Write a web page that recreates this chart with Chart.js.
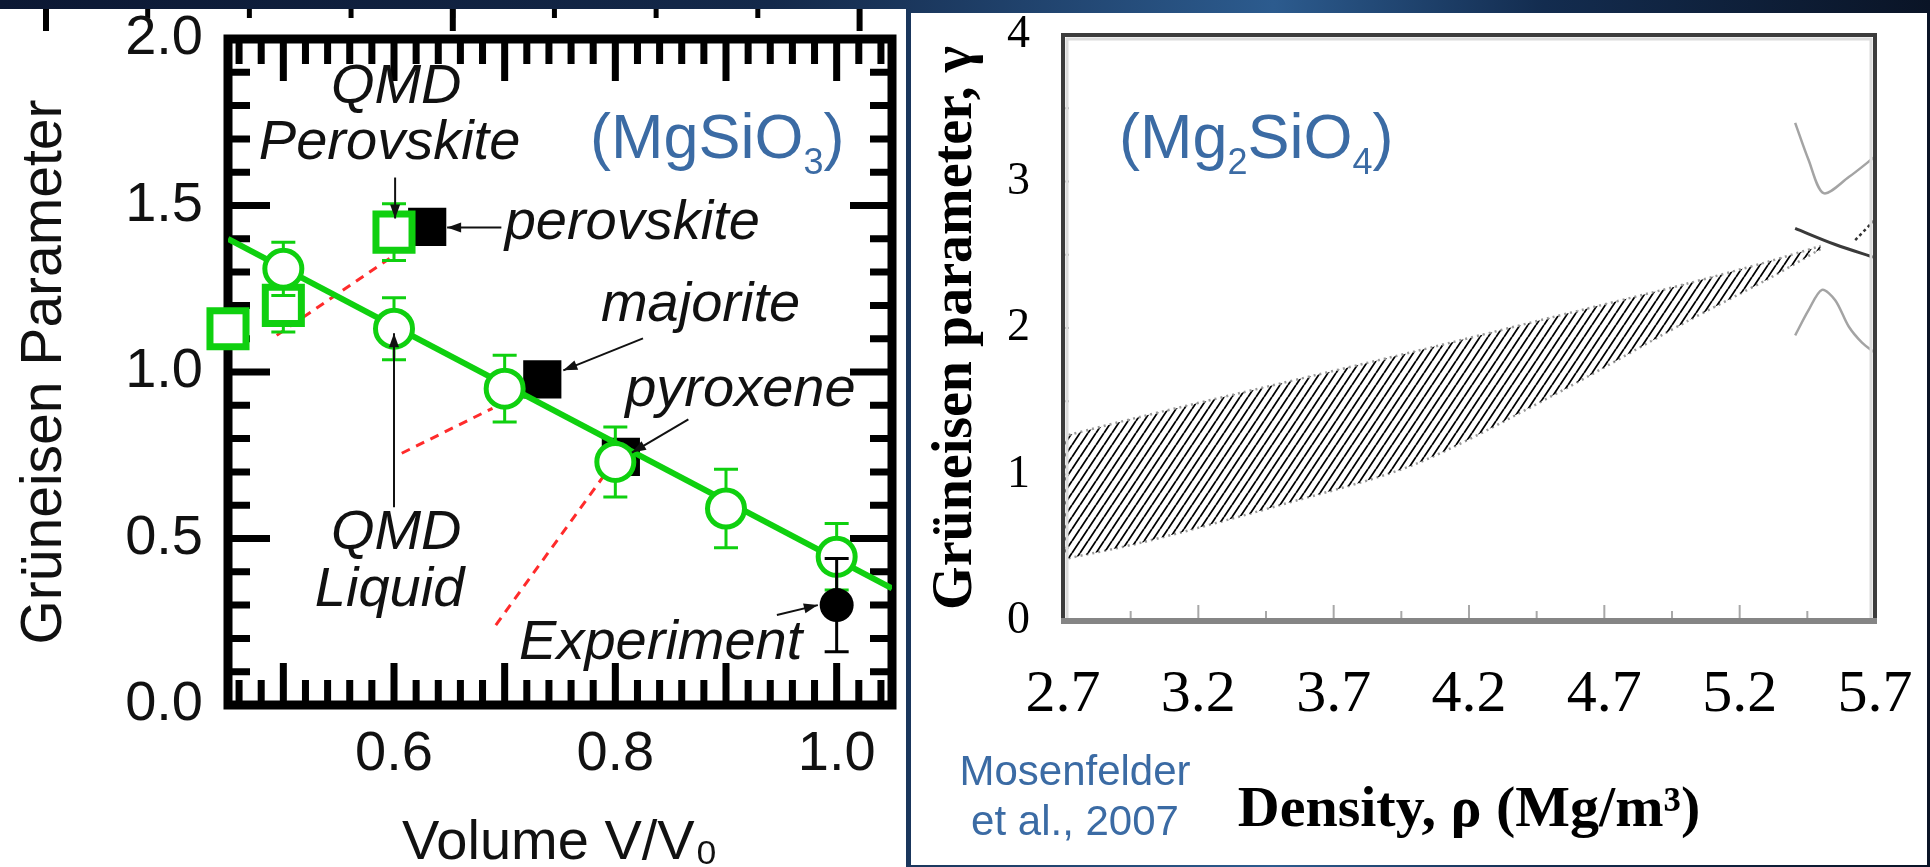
<!DOCTYPE html>
<html>
<head>
<meta charset="utf-8">
<script src="https://cdn.jsdelivr.net/npm/chart.js@4.4.0/dist/chart.umd.min.js"></script>
<style>
html, body { margin: 0; padding: 0; }
body {
  width: 1930px; height: 867px; position: relative; overflow: hidden;
  background: linear-gradient(90deg, #0c1833 0%, #14294a 40%, #2c5b8e 66%, #132c4f 80%, #0a1426 100%);
}
#lp { position: absolute; left: 0; top: 9px; width: 906px; height: 858px; background: #fff; }
#rp { position: absolute; left: 911px; top: 13px; width: 1016px; height: 852px; background: #fff; }
/* leftover tick stubs of the cropped source figure along the top edge */
#stubs, #stubsTall { position: absolute; left: 0; top: 9px; width: 906px; background-repeat: repeat-x; }
#stubs { height: 9px; background-image: linear-gradient(90deg, #000 0 5px, transparent 5px); background-size: 101.7px 100%; background-position: 43.5px 0; }
#stubsTall { height: 22px; background-image: linear-gradient(90deg, #000 0 6px, transparent 6px); background-size: 406.8px 100%; background-position: 43px 0; }
canvas { position: absolute; }
#left { left: 0; top: 0; }
#right { left: 912px; top: 13px; }
.formula {
  position: absolute; color: #3b6ba4; font-family: 'Liberation Sans', Arial, sans-serif;
  font-size: 63px; line-height: 1; white-space: nowrap;
}
.formula sub { font-size: 36px; vertical-align: -16px; line-height: 0; }
#cite {
  position: absolute; left: 950px; top: 746px; width: 250px; text-align: center;
  color: #3b6ba4; font-family: 'Liberation Sans', Arial, sans-serif; font-size: 42px; line-height: 50px;
}
</style>
</head>
<body>
<div id="lp"></div>
<div id="rp"></div>
<div id="stubs"></div>
<div id="stubsTall"></div>
<canvas id="left" width="906" height="867"></canvas>
<canvas id="right" width="1014" height="852"></canvas>
<div class="formula" style="left:590px; top:105px">(MgSiO<sub>3</sub>)</div>
<div class="formula" style="left:1119px; top:105px">(Mg<sub>2</sub>SiO<sub>4</sub>)</div>
<div id="cite">Mosenfelder<br>et al., 2007</div>

<script>
// ---- left panel: MgSiO3, Grüneisen parameter vs V/V0 ----
const volTicks = [0.6, 0.8, 1.0];
const gammaTicks = [0.0, 0.5, 1.0, 1.5, 2.0];

// QMD liquid (open circles)
const liquidV = [0.5, 0.6, 0.7, 0.8, 0.9, 1.0];
const liquidG = [1.31, 1.13, 0.95, 0.73, 0.59, 0.445];
const liquidErr = [0.08, 0.093, 0.10, 0.105, 0.118, 0.10];

// QMD perovskite (open squares)
const pvV = [0.45, 0.5, 0.6];
const pvG = [1.13, 1.20, 1.42];
const pvErr = [0, 0.08, 0.085];

// straight fit through the liquid points
const fitV = [0.45, 1.05];
const fitG = [1.40, 0.35];

// crystalline phases: perovskite, majorite, pyroxene
const phaseV = [0.63, 0.734, 0.805];
const phaseG = [1.436, 0.978, 0.745];

// experiment
const expV = [1.0];
const expG = [0.30];
const expErr = [0.14];

// red dashed connectors
const dashA = [[0.494, 1.11], [0.596, 1.341]];
const dashB = [[0.607, 0.756], [0.689, 0.891]];
const dashC = [[0.692, 0.24], [0.79, 0.69]];

// labels and arrows (data units)
const leftTexts = [
  ['QMD', 0.602, 1.854, 'center'],
  ['Perovskite', 0.596, 1.686, 'center'],
  ['perovskite', 0.70, 1.446, 'left'],
  ['majorite', 0.877, 1.20, 'center'],
  ['pyroxene', 0.913, 0.945, 'center'],
  ['QMD', 0.602, 0.516, 'center'],
  ['Liquid', 0.596, 0.345, 'center'],
  ['Experiment', 0.841, 0.186, 'center']
];
const leftArrows = [
  [0.601, 1.584, 0.601, 1.461],
  [0.697, 1.434, 0.648, 1.434],
  [0.825, 1.101, 0.753, 1.005],
  [0.866, 0.858, 0.815, 0.758],
  [0.600, 0.594, 0.600, 1.116],
  [0.946, 0.270, 0.983, 0.300]
];

// ---- right panel: Mg2SiO4, Grüneisen parameter vs density ----
const densTicks = [2.7, 3.2, 3.7, 4.2, 4.7, 5.2, 5.7];
const gamTicks = [0, 1, 2, 3, 4];
const bandRho = [2.7, 3.0, 3.5, 4.0, 4.5, 5.0, 5.3, 5.5];
const bandUpper = [1.26, 1.40, 1.62, 1.84, 2.07, 2.30, 2.45, 2.56];
const bandLower = [0.42, 0.54, 0.79, 1.07, 1.53, 2.04, 2.33, 2.54];
const curveA = [[5.405, 3.40], [5.454, 3.15], [5.51, 2.92], [5.603, 3.03], [5.70, 3.17]];
const curveB = [[5.405, 2.68], [5.553, 2.57], [5.70, 2.48]];
const curveC = [[5.405, 1.95], [5.454, 2.12], [5.504, 2.26], [5.553, 2.19], [5.603, 2.01], [5.652, 1.90], [5.70, 1.83]];
const curveD = [[5.627, 2.60], [5.70, 2.74]];

const sans = "'Liberation Sans', Arial, Helvetica, sans-serif";
const serif = "'Liberation Serif', 'Times New Roman', serif";
const green = '#0fd00f';

const xy = (xs, ys) => xs.map((v, i) => ({ x: v, y: ys[i] }));
const pts = arr => arr.map(p => ({ x: p[0], y: p[1] }));

// keep the plot area exactly where the layout padding puts it
function fixWidth(w) {
  return s => { s.width = w; s.paddingTop = 0; s.paddingBottom = 0; s.paddingLeft = 0; s.paddingRight = 0; };
}
function fixHeight(h) {
  return s => { s.height = h; s.paddingTop = 0; s.paddingBottom = 0; s.paddingLeft = 0; s.paddingRight = 0; };
}

// error bars, drawn just before their own dataset
const errorBars = {
  id: 'errorBars',
  beforeDatasetDraw(chart, args) {
    const ds = chart.data.datasets[args.index];
    if (!ds.errors) return;
    const { ctx } = chart;
    const y = chart.scales.y;
    const meta = args.meta;
    ctx.save();
    ctx.strokeStyle = ds.errColor;
    ctx.lineWidth = 3;
    ds.data.forEach((d, i) => {
      const e = ds.errors[i];
      if (!e) return;
      const px = meta.data[i].x;
      const top = y.getPixelForValue(d.y + e), bot = y.getPixelForValue(d.y - e);
      ctx.beginPath();
      ctx.moveTo(px, top); ctx.lineTo(px, bot);
      ctx.moveTo(px - 12, top); ctx.lineTo(px + 12, top);
      ctx.moveTo(px - 12, bot); ctx.lineTo(px + 12, bot);
      ctx.stroke();
    });
    ctx.restore();
  }
};

// thick frame with inward ticks on all four sides
const leftFrame = {
  id: 'leftFrame',
  beforeDatasetsDraw(chart) {
    const { ctx, chartArea: a, scales: { x, y } } = chart;
    ctx.save();
    ctx.strokeStyle = '#000';
    ctx.lineWidth = 7;
    ctx.beginPath();
    for (let k = 23; k <= 52; k++) {
      const px = x.getPixelForValue(k / 50);
      const len = (k % 5 === 0) ? 42 : 25;
      ctx.moveTo(px, a.bottom); ctx.lineTo(px, a.bottom - len);
      ctx.moveTo(px, a.top); ctx.lineTo(px, a.top + len);
    }
    for (let k = 1; k < 20; k++) {
      const py = y.getPixelForValue(k / 10);
      const len = (k % 5 === 0) ? 42 : 22;
      ctx.moveTo(a.left, py); ctx.lineTo(a.left + len, py);
      ctx.moveTo(a.right, py); ctx.lineTo(a.right - len, py);
    }
    ctx.stroke();
    ctx.lineWidth = 9;
    ctx.strokeRect(a.left, a.top, a.right - a.left, a.bottom - a.top);
    ctx.restore();
  }
};

function arrow(ctx, x1, y1, x2, y2) {
  const ang = Math.atan2(y2 - y1, x2 - x1);
  ctx.beginPath();
  ctx.moveTo(x1, y1); ctx.lineTo(x2, y2);
  ctx.stroke();
  ctx.beginPath();
  ctx.moveTo(x2, y2);
  ctx.lineTo(x2 - 14 * Math.cos(ang) + 5 * Math.sin(ang), y2 - 14 * Math.sin(ang) - 5 * Math.cos(ang));
  ctx.lineTo(x2 - 14 * Math.cos(ang) - 5 * Math.sin(ang), y2 - 14 * Math.sin(ang) + 5 * Math.cos(ang));
  ctx.closePath();
  ctx.fill();
}

const leftNotes = {
  id: 'leftNotes',
  afterDatasetsDraw(chart) {
    const { ctx, scales: { x, y } } = chart;
    ctx.save();
    ctx.strokeStyle = '#111'; ctx.fillStyle = '#111'; ctx.lineWidth = 2;
    leftArrows.forEach(r => arrow(ctx, x.getPixelForValue(r[0]), y.getPixelForValue(r[1]),
      x.getPixelForValue(r[2]), y.getPixelForValue(r[3])));
    ctx.font = 'italic 56px ' + sans;
    ctx.textBaseline = 'middle';
    leftTexts.forEach(t => {
      ctx.textAlign = t[3];
      ctx.fillText(t[0], x.getPixelForValue(t[1]), y.getPixelForValue(t[2]));
    });
    ctx.restore();
  }
};

new Chart(document.getElementById('left'), {
  type: 'line',
  data: {
    datasets: [
      { label: 'Experiment', data: xy(expV, expG), showLine: false, pointStyle: 'circle',
        pointRadius: 17, pointBorderWidth: 0, pointBackgroundColor: '#000', errors: expErr, errColor: '#000' },
      { label: 'QMD liquid', data: xy(liquidV, liquidG), showLine: false, pointStyle: 'circle',
        pointRadius: 18.5, pointBorderWidth: 5, pointBorderColor: green, pointBackgroundColor: '#fff',
        errors: liquidErr, errColor: green },
      { label: 'QMD perovskite', data: xy(pvV, pvG), showLine: false, pointStyle: 'rect',
        pointRadius: 25.5, pointBorderWidth: 7, pointBorderColor: green, pointBackgroundColor: '#fff',
        errors: pvErr, errColor: green, clip: false },
      { label: 'fit', data: xy(fitV, fitG), borderColor: green, borderWidth: 6, pointRadius: 0 },
      { label: 'a', data: pts(dashA), borderColor: '#ff2b2b', borderWidth: 3, borderDash: [9, 7], pointRadius: 0 },
      { label: 'b', data: pts(dashB), borderColor: '#ff2b2b', borderWidth: 3, borderDash: [9, 7], pointRadius: 0 },
      { label: 'c', data: pts(dashC), borderColor: '#ff2b2b', borderWidth: 3, borderDash: [9, 7], pointRadius: 0 },
      { label: 'phases', data: xy(phaseV, phaseG), showLine: false, pointStyle: 'rect',
        pointRadius: 27, pointBorderWidth: 0, pointBackgroundColor: '#000' }
    ]
  },
  options: {
    responsive: false, animation: false, devicePixelRatio: 1, events: [],
    layout: { autoPadding: false, padding: { left: 0, top: 39, right: 14, bottom: 0 } },
    plugins: { legend: { display: false }, tooltip: { enabled: false } },
    scales: {
      x: {
        type: 'linear', min: 0.45, max: 1.05,
        afterBuildTicks: s => { s.ticks = volTicks.map(v => ({ value: v })); },
        afterFit: fixHeight(162),
        grid: { display: false, drawTicks: false }, border: { display: false },
        ticks: { callback: v => v.toFixed(1), font: { family: sans, size: 56 }, color: '#111', padding: 16, maxRotation: 0, autoSkip: false },
        title: { display: true, text: 'Volume V/V₀', color: '#111', font: { family: sans, size: 56, lineHeight: 0.85 }, padding: 0 }
      },
      y: {
        min: 0, max: 2,
        afterBuildTicks: s => { s.ticks = gammaTicks.map(v => ({ value: v })); },
        afterFit: fixWidth(228),
        grid: { display: false, drawTicks: false }, border: { display: false },
        ticks: { callback: v => v.toFixed(1), font: { family: sans, size: 56 }, color: '#111', padding: 25 },
        title: { display: true, text: 'Grüneisen Parameter', color: '#111', font: { family: sans, size: 57, lineHeight: 1 }, padding: { top: 17, bottom: 0 } }
      }
    }
  },
  plugins: [errorBars, leftFrame, leftNotes]
});

// ---- right chart ----
function hatch() {
  const c = document.createElement('canvas');
  c.width = 8; c.height = 12;
  const g = c.getContext('2d');
  g.strokeStyle = '#000';
  g.lineWidth = 1.8;
  g.beginPath();
  [-8, 0, 8].forEach(o => { g.moveTo(o, 12); g.lineTo(o + 8, 0); });
  g.stroke();
  return g.createPattern(c, 'repeat');
}

const rightFrame = {
  id: 'rightFrame',
  afterDatasetsDraw(chart) {
    const { ctx, chartArea: a, scales: { x, y } } = chart;
    ctx.save();
    ctx.strokeStyle = '#a8a8a8'; ctx.lineWidth = 2;
    ctx.beginPath();
    for (let k = 0; k <= 12; k++) {
      const v = 2.95 + k * 0.25;
      if (v > 5.5) break;
      const px = x.getPixelForValue(v);
      const major = densTicks.some(t => Math.abs(t - v) < 1e-6);
      ctx.moveTo(px, a.bottom); ctx.lineTo(px, a.bottom - (major ? 16 : 10));
    }
    for (let k = 1; k < 8; k++) {
      const py = y.getPixelForValue(k * 0.5);
      ctx.moveTo(a.left, py); ctx.lineTo(a.left + 6, py);
    }
    ctx.stroke();
    // light inner rule
    ctx.strokeStyle = '#dcdcdc'; ctx.lineWidth = 3;
    ctx.beginPath();
    ctx.moveTo(a.left + 3, a.top + 4); ctx.lineTo(a.right - 3, a.top + 4);
    ctx.moveTo(a.left + 4, a.top + 3); ctx.lineTo(a.left + 4, a.bottom - 3);
    ctx.moveTo(a.right - 4, a.top + 3); ctx.lineTo(a.right - 4, a.bottom - 3);
    ctx.stroke();
    ctx.strokeStyle = '#3c3c3c'; ctx.lineWidth = 4;
    ctx.beginPath();
    ctx.moveTo(a.left, a.bottom); ctx.lineTo(a.left, a.top); ctx.lineTo(a.right, a.top); ctx.lineTo(a.right, a.bottom);
    ctx.stroke();
    ctx.strokeStyle = '#858585'; ctx.lineWidth = 6;
    ctx.beginPath();
    ctx.moveTo(a.left - 2, a.bottom); ctx.lineTo(a.right + 2, a.bottom);
    ctx.stroke();
    ctx.restore();
  }
};

new Chart(document.getElementById('right'), {
  type: 'line',
  data: {
    datasets: [
      { label: 'upper', data: xy(bandRho, bandUpper), borderColor: '#9a9a9a', borderWidth: 2.5, borderDash: [2, 4],
        pointRadius: 0, tension: 0.3, fill: '+1', backgroundColor: hatch() },
      { label: 'lower', data: xy(bandRho, bandLower), borderColor: '#9a9a9a', borderWidth: 2.5, borderDash: [2, 4],
        pointRadius: 0, tension: 0.3, fill: false },
      { label: 'A', data: pts(curveA), borderColor: '#a4a4a4', borderWidth: 2.5, pointRadius: 0, tension: 0.3, fill: false },
      { label: 'B', data: pts(curveB), borderColor: '#3a3a3a', borderWidth: 3, pointRadius: 0, tension: 0.3, fill: false },
      { label: 'C', data: pts(curveC), borderColor: '#a4a4a4', borderWidth: 2.5, pointRadius: 0, tension: 0.3, fill: false },
      { label: 'D', data: pts(curveD), borderColor: '#333', borderWidth: 2.5, borderDash: [3, 3], pointRadius: 0, fill: false }
    ]
  },
  options: {
    responsive: false, animation: false, devicePixelRatio: 1, events: [],
    layout: { autoPadding: false, padding: { left: 0, top: 22, right: 51, bottom: 0 } },
    plugins: { legend: { display: false }, tooltip: { enabled: false } },
    scales: {
      x: {
        type: 'linear', min: 2.7, max: 5.7,
        afterBuildTicks: s => { s.ticks = densTicks.map(v => ({ value: v })); },
        afterFit: fixHeight(244),
        grid: { display: false, drawTicks: false }, border: { display: false },
        ticks: { callback: v => v.toFixed(1), font: { family: serif, size: 60 }, color: '#000', padding: 38, maxRotation: 0, autoSkip: false },
        title: { display: true, text: 'Density, ρ (Mg/m³)', color: '#000', font: { family: serif, size: 58, weight: 'bold', lineHeight: 1 }, padding: { top: 0, bottom: 25 } }
      },
      y: {
        min: 0, max: 4,
        afterBuildTicks: s => { s.ticks = gamTicks.map(v => ({ value: v })); },
        afterFit: fixWidth(151),
        grid: { display: false, drawTicks: false }, border: { display: false },
        ticks: { callback: v => String(v), font: { family: serif, size: 46 }, color: '#000', padding: 33 },
        title: { display: true, text: 'Grüneisen parameter, γ', color: '#000', font: { family: serif, size: 56, weight: 'bold', lineHeight: 1 }, padding: { top: 17, bottom: 0 } }
      }
    }
  },
  plugins: [rightFrame]
});
</script>
</body>
</html>
